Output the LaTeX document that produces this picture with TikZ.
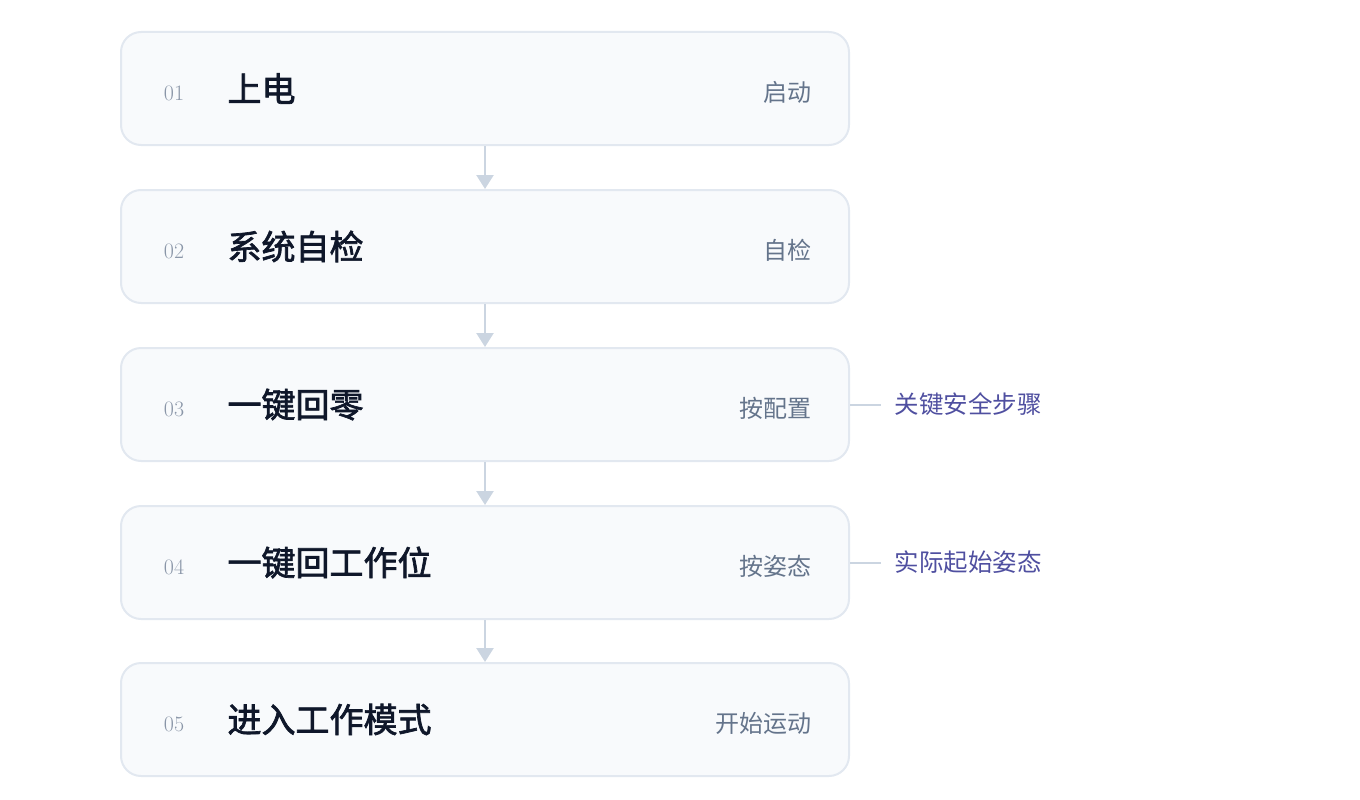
\documentclass[tikz,border=0pt]{standalone}
\usepackage{fontspec}
\newfontfamily\cjk{Noto Sans CJK SC}
\newfontfamily\cjkb{Noto Sans CJK SC}[FakeBold=2]
\usetikzlibrary{arrows.meta}
\definecolor{boxfill}{HTML}{F8FAFC}
\definecolor{boxline}{HTML}{E2E8F0}
\definecolor{conn}{HTML}{CBD5E1}
\definecolor{numc}{HTML}{8A96A8}
\definecolor{titlec}{HTML}{0F172A}
\definecolor{subc}{HTML}{64748B}
\definecolor{notec}{HTML}{4F4FA0}
\begin{document}
\begin{tikzpicture}[x=1pt,y=-1pt,
  stepbox/.style={draw=boxline,fill=boxfill,line width=2pt,rounded corners=20pt,minimum width=728pt,minimum height=113pt,inner sep=0pt},
  numtxt/.style={text=numc,font=\fontsize{22}{22}\selectfont,anchor=center},
  titletxt/.style={text=titlec,font=\cjkb\fontsize{34}{34}\selectfont,anchor=west},
  subtxt/.style={text=subc,font=\cjk\fontsize{24}{24}\selectfont,anchor=east},
  notetxt/.style={text=notec,font=\cjk\fontsize{24.5}{24.5}\selectfont,anchor=west},
  flow/.style={draw=conn,line width=2.5pt,-{Triangle[length=14pt,width=17pt]}},
  noteline/.style={draw=conn,line width=2pt}]
\useasboundingbox (0,0) rectangle (1360,800);
\foreach \i/\y/\t/\s in {1/88.5/上电/启动,2/246.5/系统自检/自检,3/404.5/一键回零/按配置,4/562.5/一键回工作位/按姿态,5/719.5/进入工作模式/开始运动}{
  \node[stepbox] (b\i) at (485,\y) {};
  \node[numtxt] (n\i) at (174,\y+5) {0\i};
  \node[titletxt] (t\i) at (224,\y) {\t};
  \node[subtxt] (s\i) at (815,\y+4) {\s};
}
\foreach \a/\b in {1/2,2/3,3/4,4/5}{
  \draw[flow] (b\a.south) -- (b\b.north);
}
\coordinate (c3) at (881,404.5);
\coordinate (c4) at (881,562.5);
\draw[noteline] (b3.east) -- (c3);
\draw[noteline] (b4.east) -- (c4);
\node[notetxt] (m3) at (891,404.5) {关键安全步骤};
\node[notetxt] (m4) at (891,562.5) {实际起始姿态};
\end{tikzpicture}
\end{document}
